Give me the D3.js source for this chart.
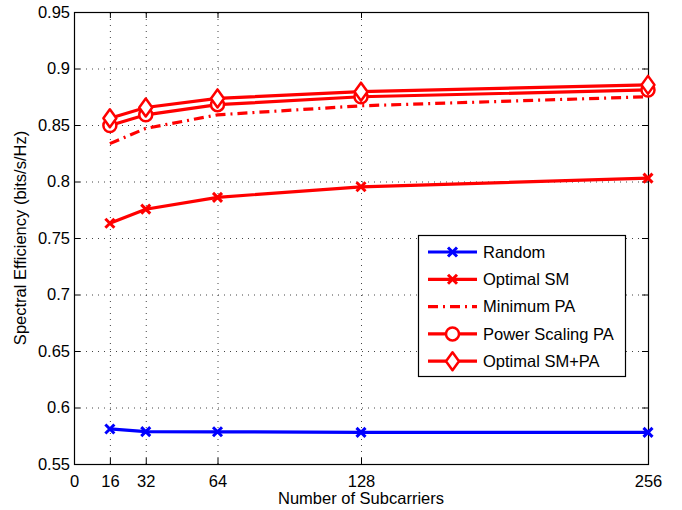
<!DOCTYPE html>
<html>
<head>
<meta charset="utf-8">
<script src="https://cdn.jsdelivr.net/npm/d3@7"></script>
<style>
  body { margin: 0; background: #fff; }
  svg { font-family: "Liberation Sans", Arial, sans-serif; }
</style>
</head>
<body>
<div id="chart"></div>
<script>
// Data
const subcarriers = [16, 32, 64, 128, 256];
const xTicks = [0, 16, 32, 64, 128, 256];
const yTicks = [0.55, 0.6, 0.65, 0.7, 0.75, 0.8, 0.85, 0.9, 0.95];

const randomSE = [0.581, 0.5787, 0.5785, 0.578, 0.578];
const optimalSM = [0.763, 0.7755, 0.786, 0.7953, 0.803];
const minimumPA = [0.8335, 0.847, 0.859, 0.867, 0.875];
const powerScalingPA = [0.8495, 0.859, 0.868, 0.875, 0.881];
const optimalSMPA = [0.856, 0.8655, 0.8735, 0.8795, 0.8855];

const width = 682;
const height = 510;
const margin = {top: 12, right: 34, bottom: 46, left: 74};
const fontSize = 16.5;

const series = [
  {name: "Random", values: randomSE, color: "#0000ff", marker: "x", dash: null},
  {name: "Optimal SM", values: optimalSM, color: "#ff0000", marker: "x", dash: null},
  {name: "Minimum PA", values: minimumPA, color: "#ff0000", marker: null, dash: "10,5,2,5"},
  {name: "Power Scaling PA", values: powerScalingPA, color: "#ff0000", marker: "circle", dash: null},
  {name: "Optimal SM+PA", values: optimalSMPA, color: "#ff0000", marker: "diamond", dash: null}
];

const svg = d3.select("#chart").append("svg")
  .attr("width", width)
  .attr("height", height);

const x = d3.scaleLinear().domain([0, 256]).range([margin.left, width - margin.right]);
const y = d3.scaleLinear().domain([0.55, 0.95]).range([height - margin.bottom, margin.top]);

const x0 = x.range()[0], x1 = x.range()[1];
const y0 = y.range()[0], y1 = y.range()[1];

// Grid (dotted)
const grid = svg.append("g")
  .attr("stroke", "#444")
  .attr("stroke-width", 1)
  .attr("stroke-dasharray", "1,5");

grid.selectAll("line.h")
  .data(yTicks.filter(d => d > 0.55 && d < 0.95))
  .join("line")
  .attr("class", "h")
  .attr("x1", x0).attr("x2", x1)
  .attr("y1", d => y(d) + 0.5).attr("y2", d => y(d) + 0.5);

grid.selectAll("line.v")
  .data(xTicks.filter(d => d > 0 && d < 256))
  .join("line")
  .attr("class", "v")
  .attr("x1", d => x(d) + 0.5).attr("x2", d => x(d) + 0.5)
  .attr("y1", y0).attr("y2", y1);

// Axes with inward ticks
const fmtY = d => d3.format("")(+d.toFixed(2));

function styleAxis(g) {
  g.attr("font-family", null).attr("font-size", null);
  g.select(".domain").remove();
  g.selectAll("text").attr("font-size", fontSize).attr("fill", "#000");
}

svg.append("g")
  .attr("transform", `translate(0,${y0})`)
  .call(d3.axisBottom(x).tickValues(xTicks).tickSizeInner(-6).tickSizeOuter(0).tickPadding(11))
  .call(styleAxis);

svg.append("g")
  .attr("transform", `translate(0,${y1})`)
  .call(d3.axisTop(x).tickValues(xTicks).tickSizeInner(-6).tickSizeOuter(0).tickFormat(""))
  .call(styleAxis);

svg.append("g")
  .attr("transform", `translate(${x0},0)`)
  .call(d3.axisLeft(y).tickValues(yTicks).tickFormat(fmtY).tickSizeInner(-6).tickSizeOuter(0).tickPadding(4))
  .call(styleAxis);

svg.append("g")
  .attr("transform", `translate(${x1},0)`)
  .call(d3.axisRight(y).tickValues(yTicks).tickSizeInner(-6).tickSizeOuter(0).tickFormat(""))
  .call(styleAxis);

svg.append("rect")
  .attr("x", x0 + 0.5).attr("y", y1 + 0.5)
  .attr("width", x1 - x0).attr("height", y0 - y1)
  .attr("fill", "none")
  .attr("stroke", "#000")
  .attr("stroke-width", 1.2);

// Axis labels
svg.append("text")
  .attr("x", (x0 + x1) / 2)
  .attr("y", 504)
  .attr("text-anchor", "middle")
  .attr("font-size", fontSize)
  .text("Number of Subcarriers");

svg.append("text")
  .attr("transform", `translate(26,${(y0 + y1) / 2}) rotate(-90)`)
  .attr("text-anchor", "middle")
  .attr("font-size", fontSize)
  .text("Spectral Efficiency (bits/s/Hz)");

// Markers
function drawMarker(g, type, color) {
  if (type === "x") {
    const s = 4.5;
    g.append("path")
      .attr("d", `M${-s},${-s}L${s},${s}M${-s},${s}L${s},${-s}`)
      .attr("stroke", color).attr("stroke-width", 3).attr("fill", "none");
  } else if (type === "circle") {
    g.append("circle")
      .attr("r", 6.5)
      .attr("fill", "#fff").attr("stroke", color).attr("stroke-width", 2.5);
  } else if (type === "diamond") {
    g.append("path")
      .attr("d", "M0,-9L6.5,0L0,9L-6.5,0Z")
      .attr("fill", "#fff").attr("stroke", color).attr("stroke-width", 2.5)
      .attr("stroke-linejoin", "round");
  }
}

const line = d3.line()
  .x((d, i) => x(subcarriers[i]))
  .y(d => y(d));

const plot = svg.append("g");

series.forEach(s => {
  plot.append("path")
    .datum(s.values)
    .attr("d", line)
    .attr("fill", "none")
    .attr("stroke", s.color)
    .attr("stroke-width", 3.2)
    .attr("stroke-dasharray", s.dash);

  if (s.marker) {
    s.values.forEach((v, i) => {
      const g = plot.append("g").attr("transform", `translate(${x(subcarriers[i])},${y(v)})`);
      drawMarker(g, s.marker, s.color);
    });
  }
});

// Legend
const legend = svg.append("g").attr("transform", "translate(418,235)");
legend.append("rect")
  .attr("x", 0.5).attr("y", 0.5)
  .attr("width", 207).attr("height", 141)
  .attr("fill", "#fff")
  .attr("stroke", "#000")
  .attr("stroke-width", 1.2);

series.forEach((s, i) => {
  const cy = 17 + i * 27.3;
  const row = legend.append("g").attr("transform", `translate(0,${cy})`);
  row.append("line")
    .attr("x1", 10).attr("x2", 59)
    .attr("stroke", s.color)
    .attr("stroke-width", 3.2)
    .attr("stroke-dasharray", s.dash);
  if (s.marker) {
    const g = row.append("g").attr("transform", "translate(34.5,0)");
    drawMarker(g, s.marker, s.color);
  }
  row.append("text")
    .attr("x", 65)
    .attr("y", 5.8)
    .attr("font-size", fontSize)
    .text(s.name);
});
</script>
</body>
</html>
